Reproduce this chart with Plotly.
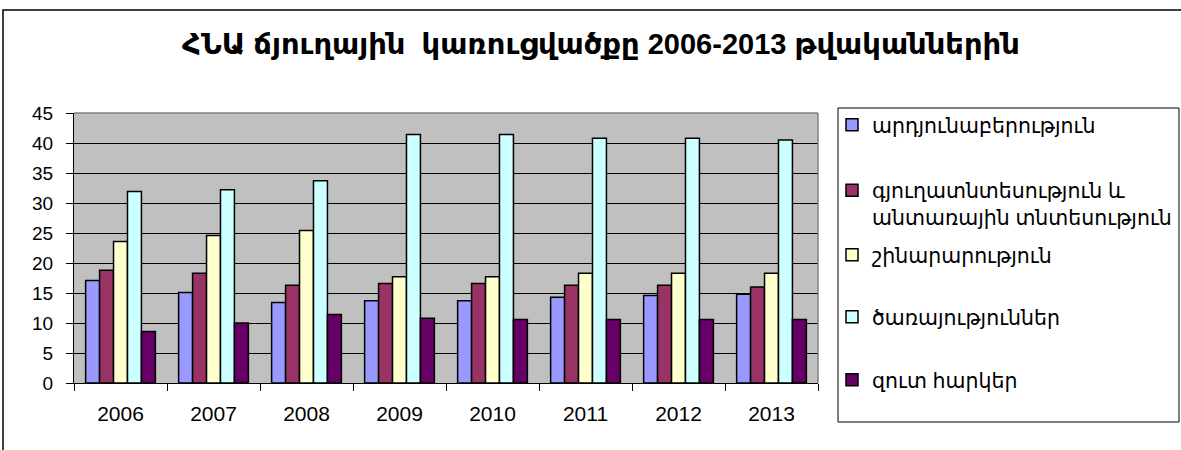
import plotly.graph_objects as go

years = ["2006", "2007", "2008", "2009", "2010", "2011", "2012", "2013"]
industry = [17.1, 15.1, 13.4, 13.7, 13.7, 14.3, 14.6, 14.8]
agriculture = [18.8, 18.3, 16.3, 16.6, 16.6, 16.3, 16.3, 16.0]
construction = [23.6, 24.6, 25.4, 17.7, 17.7, 18.3, 18.3, 18.3]
services = [31.9, 32.2, 33.7, 41.4, 41.4, 40.8, 40.8, 40.5]
net_taxes = [8.6, 10.0, 11.4, 10.8, 10.6, 10.6, 10.6, 10.6]

series_names = [
    "արդյունաբերություն",
    "գյուղատնտեսություն և<br>անտառային տնտեսություն",
    "շինարարություն",
    "ծառայություններ",
    "զուտ հարկեր",
]
series_values = [industry, agriculture, construction, services, net_taxes]
colors = ["#9999FF", "#993366", "#FFFFCC", "#CCFFFF", "#660066"]
y_ticks = [0, 5, 10, 15, 20, 25, 30, 35, 40, 45]

FONT = "Arial, Liberation Sans, DejaVu Sans, sans-serif"

# plot area geometry (pixels)
L, R, T, B = 74, 818, 113, 383
W, H = 1181, 450
pw, ph = R - L, B - T

def px_x(x):
    return (x - L) / pw

def px_y(y):
    return (B - y) / ph

legend_keys = ["legend", "legend2", "legend3", "legend4", "legend5"]
legend_centers = [125, 204, 255, 317, 380]

fig = go.Figure()
for name, vals, col, lk in zip(series_names, series_values, colors, legend_keys):
    fig.add_trace(go.Bar(
        x=years, y=vals, name=name,
        marker=dict(color=col, line=dict(color="black", width=1.5)),
        legend=lk,
    ))

layout_legends = {}
for lk, cy in zip(legend_keys, legend_centers):
    layout_legends[lk] = dict(
        x=px_x(832), xanchor="left",
        y=px_y(cy), yanchor="middle",
        bgcolor="rgba(0,0,0,0)", borderwidth=0,
        font=dict(family=FONT, size=20.5, color="black"),
        valign="top", itemclick=False, itemdoubleclick=False,
    )

fig.update_layout(
    width=W, height=H,
    margin=dict(l=L, r=W - R, t=T, b=H - B, autoexpand=False),
    paper_bgcolor="white",
    plot_bgcolor="#C0C0C0",
    barmode="group",
    bargap=0.25,
    bargroupgap=0,
    showlegend=True,
    title=dict(
        text="<b>ՀՆԱ ճյուղային  կառուցվածքը 2006-2013 թվականներին</b>",
        x=601 / W, xanchor="center",
        y=1 - 44 / H, yanchor="middle",
        font=dict(family=FONT, size=29, color="black"),
    ),
    font=dict(family=FONT, size=16, color="black"),
    **layout_legends,
)

fig.update_xaxes(
    type="category",
    showline=True, linecolor="black", linewidth=1,
    ticks="outside", tickson="boundaries", ticklen=7, tickcolor="black",
    tickfont=dict(family=FONT, size=21, color="black"),
    ticklabelstandoff=12,
    showgrid=False,
)
fig.update_yaxes(
    range=[0, 45],
    tickvals=y_ticks,
    showline=True, linecolor="black", linewidth=1,
    ticks="outside", ticklen=7, tickcolor="black",
    tickfont=dict(family=FONT, size=19, color="black"),
    ticklabelstandoff=9,
    showgrid=True, gridcolor="black", gridwidth=1,
    zeroline=False,
)

shapes = [
    # top and right plot border (grey)
    dict(type="line", xref="paper", yref="paper", x0=0, x1=1, y0=1, y1=1,
         line=dict(color="#808080", width=1.5)),
    dict(type="line", xref="paper", yref="paper", x0=1, x1=1, y0=0, y1=1,
         line=dict(color="#808080", width=1.5)),
    # legend box
    dict(type="rect", xref="paper", yref="paper",
         x0=px_x(838), x1=px_x(1179), y0=px_y(422), y1=px_y(108),
         line=dict(color="black", width=1), fillcolor="rgba(0,0,0,0)"),
    # outer chart frame
    dict(type="rect", xref="paper", yref="paper",
         x0=px_x(3), x1=px_x(1195), y0=px_y(470), y1=px_y(10),
         line=dict(color="black", width=1.5), fillcolor="rgba(0,0,0,0)"),
]
fig.update_layout(shapes=shapes)

fig.write_html(
    "out.html",
    config={"displayModeBar": False},
    post_script="document.body.style.margin='0';",
)
